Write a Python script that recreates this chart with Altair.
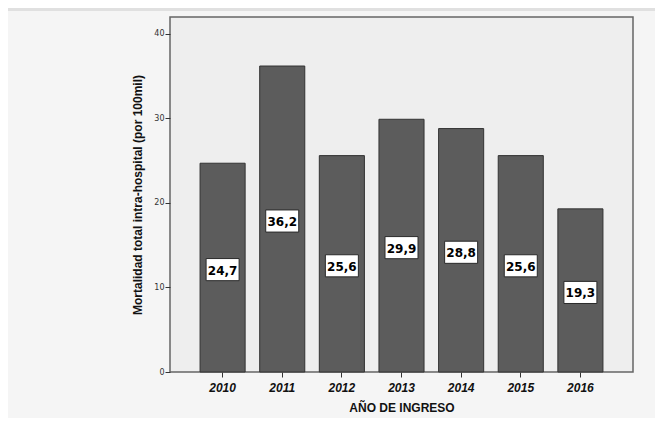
import altair as alt
import pandas as pd

years = ["2010", "2011", "2012", "2013", "2014", "2015", "2016"]
values = [24.7, 36.2, 25.6, 29.9, 28.8, 25.6, 19.3]
labels = ["24,7", "36,2", "25,6", "29,9", "28,8", "25,6", "19,3"]

df = pd.DataFrame({"year": years, "value": values, "label": labels})
df["half"] = df["value"] / 2

xenc = alt.X(
    "year:N",
    title="AÑO DE INGRESO",
    sort=years,
    scale=alt.Scale(paddingInner=0.244, paddingOuter=0.504),
    axis=alt.Axis(
        labelAngle=0,
        labelFont="Liberation Sans",
        labelFontSize=12,
        labelFontWeight="bold",
        labelFontStyle="italic",
        labelColor="#111",
        labelPadding=5,
        tickSize=5,
        tickColor="#333",
        domain=False,
        titleFont="Liberation Sans",
        titleFontSize=12,
        titleFontWeight="bold",
        titleColor="#111",
        titlePadding=9,
    ),
)

yscale = alt.Scale(domain=[0, 42], nice=False, zero=True)
yaxis = alt.Axis(
    values=[0, 10, 20, 30, 40],
    labelFont="DejaVu Sans",
    labelFontSize=8,
    labelColor="#333",
    labelPadding=1,
    tickSize=5,
    tickColor="#333",
    domain=False,
    grid=False,
    title="Mortalidad total intra-hospital (por 100mil)",
    titleFont="Liberation Sans",
    titleFontSize=12,
    titleFontWeight="bold",
    titleColor="#111",
    titlePadding=9,
)

bars = alt.Chart(df).mark_bar(color="#5c5c5c", stroke="#333333", strokeWidth=1).encode(
    x=xenc,
    y=alt.Y("value:Q", scale=yscale, axis=yaxis),
)

boxes = alt.Chart(df).mark_point(
    shape="M-1,-0.67L1,-0.67L1,0.67L-1,0.67Z",
    size=1089,
    filled=False,
    fill="#ffffff",
    fillOpacity=1,
    stroke="#2a2a2a",
    strokeOpacity=1,
    strokeWidth=1,
    opacity=1,
    yOffset=2,
).encode(
    x=alt.X("year:N", sort=years),
    y=alt.Y("half:Q", scale=yscale),
)

texts = alt.Chart(df).mark_text(
    font="DejaVu Sans",
    fontSize=12,
    fontWeight="bold",
    color="#000",
    baseline="middle",
    dy=3,
).encode(
    x=alt.X("year:N", sort=years),
    y=alt.Y("half:Q", scale=yscale),
    text="label:N",
)

topband = alt.Chart(df).mark_rule(color="#e0e0e0", strokeWidth=3).encode(
    x=alt.value(-162), x2=alt.value(485), y=alt.value(-8)
)

chart = (
    alt.layer(bars, boxes, texts, topband)
    .properties(
        width=463,
        height=355,
        autosize=alt.AutoSizeParams(type="none"),
        padding={"left": 162, "top": 9, "right": 22, "bottom": 46},
        background="#f5f5f5",
    )
    .configure_view(fill="#eeeeee", stroke="#666666", strokeWidth=1.5)
)

chart.save("out.html", embed_options={"renderer": "svg", "actions": False})
